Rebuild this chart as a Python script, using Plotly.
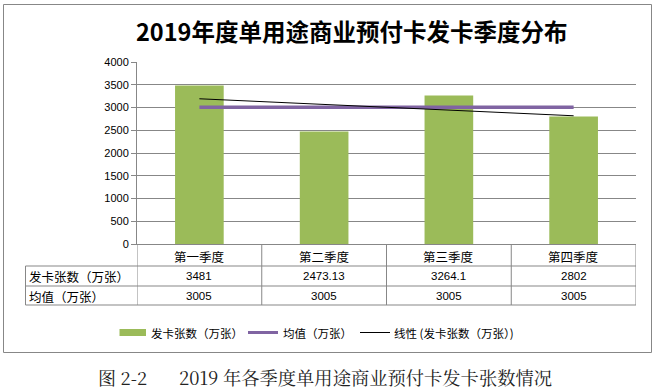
import numpy as np
import plotly.graph_objects as go

# ---------------- data ----------------
categories = ["第一季度", "第二季度", "第三季度", "第四季度"]
cards = [3481, 2473.13, 3264.1, 2802]
mean_vals = [3005, 3005, 3005, 3005]
row_labels = ["发卡张数（万张）", "均值（万张）"]
series_names = ["发卡张数（万张）", "均值（万张）", "线性 (发卡张数（万张）)"]
y_ticks = [0, 500, 1000, 1500, 2000, 2500, 3000, 3500, 4000]
title_text = "2019年度单用途商业预付卡发卡季度分布"
caption_left = "图 2-2"
caption_right = "2019 年各季度单用途商业预付卡发卡张数情况"

# ---------------- geometry helpers ----------------
W, H = 657, 392
L, R, T, B = 137, 636, 62, 244   # plot area in pixels

BAR_COLOR = "#9BBB59"
MEAN_COLOR = "#8064A2"
TREND_COLOR = "#000000"


def px(x):
    return (x - L) / (R - L)


def py(y):
    return (B - y) / (B - T)


xs = list(range(len(categories)))
slope, intercept = np.polyfit(np.array(xs, dtype=float) + 1, np.array(cards, dtype=float), 1)
trend = [slope * (i + 1) + intercept for i in xs]

GRID = "#878787"
CJK = "Noto Sans CJK SC, sans-serif"
NUM = "Liberation Sans, Arial, sans-serif"
SERIF = "Noto Serif CJK SC, Liberation Serif, Noto Sans CJK SC, serif"

fig = go.Figure()
fig.add_trace(go.Bar(x=xs, y=cards, name=series_names[0], marker_color=BAR_COLOR,
                     width=0.39, marker_line_width=0, showlegend=False))
fig.add_trace(go.Scatter(x=xs, y=mean_vals, name=series_names[1], mode="lines",
                         line=dict(color=MEAN_COLOR, width=3.5), showlegend=False))
fig.add_trace(go.Scatter(x=xs, y=trend, name=series_names[2], mode="lines",
                         line=dict(color=TREND_COLOR, width=1), showlegend=False))

shapes = []
# outer border
shapes.append(dict(type="rect", xref="paper", yref="paper", x0=px(3.5), x1=px(651.5),
                   y0=py(352.5), y1=py(4.5), line=dict(color=GRID, width=1)))
# table horizontal lines
for yy in [266, 286, 305]:
    shapes.append(dict(type="line", xref="paper", yref="paper", x0=px(25.5), x1=1,
                       y0=py(yy), y1=py(yy), line=dict(color=GRID, width=1)))
# table vertical lines at category boundaries
for i in range(len(categories) + 1):
    shapes.append(dict(type="line", xref="x", yref="paper", x0=i - 0.5, x1=i - 0.5,
                       y0=0, y1=py(305), line=dict(color=GRID, width=1)))
shapes.append(dict(type="line", xref="paper", yref="paper", x0=px(25.5), x1=px(25.5),
                   y0=py(266), y1=py(305), line=dict(color=GRID, width=1)))

# legend (drawn manually to match the reference keys)
LEG_Y = 332.5
shapes.append(dict(type="rect", xref="paper", yref="paper", x0=px(119.5), x1=px(146),
                   y0=py(336), y1=py(329), fillcolor=BAR_COLOR, line=dict(width=0)))
shapes.append(dict(type="line", xref="paper", yref="paper", x0=px(248), x1=px(278),
                   y0=py(LEG_Y), y1=py(LEG_Y), line=dict(color=MEAN_COLOR, width=3)))
shapes.append(dict(type="line", xref="paper", yref="paper", x0=px(360), x1=px(390),
                   y0=py(LEG_Y), y1=py(LEG_Y), line=dict(color=TREND_COLOR, width=1)))

annotations = []
for name, xx in zip(series_names, [149, 281, 392]):
    annotations.append(dict(text=name, xref="paper", yref="paper", x=px(xx), y=py(LEG_Y),
                            xanchor="left", yanchor="middle", showarrow=False,
                            font=dict(family=CJK, size=11.5, color="#000000")))

annotations.append(dict(text="<b>" + title_text + "</b>", xref="paper", yref="paper",
                        x=px(351), y=py(31), xanchor="center", yanchor="middle",
                        showarrow=False, font=dict(family=CJK, size=23.5, color="#000000")))
for i, c in enumerate(categories):
    annotations.append(dict(text=c, xref="x", yref="paper", x=i, y=py(256),
                            xanchor="center", yanchor="middle", showarrow=False,
                            font=dict(family=CJK, size=12.5, color="#000000")))
    annotations.append(dict(text=f"{cards[i]:g}", xref="x", yref="paper", x=i, y=py(276),
                            xanchor="center", yanchor="middle", showarrow=False,
                            font=dict(family=NUM, size=11.5, color="#000000")))
    annotations.append(dict(text=f"{mean_vals[i]:g}", xref="x", yref="paper", x=i, y=py(296),
                            xanchor="center", yanchor="middle", showarrow=False,
                            font=dict(family=NUM, size=11.5, color="#000000")))
for lab, yy in zip(row_labels, [276, 296]):
    annotations.append(dict(text=lab, xref="paper", yref="paper", x=px(27), y=py(yy),
                            xanchor="left", yanchor="middle", showarrow=False,
                            font=dict(family=CJK, size=12.5, color="#000000")))
annotations.append(dict(text=caption_left, xref="paper", yref="paper", x=px(96), y=py(377),
                        xanchor="left", yanchor="middle", showarrow=False,
                        font=dict(family=SERIF, size=18, color="#222222")))
annotations.append(dict(text=caption_right, xref="paper", yref="paper", x=px(177), y=py(377),
                        xanchor="left", yanchor="middle", showarrow=False,
                        font=dict(family=SERIF, size=18.3, color="#222222")))

fig.update_layout(
    width=W, height=H,
    margin=dict(l=L, r=W - R, t=T, b=H - B, pad=0),
    paper_bgcolor="white", plot_bgcolor="white",
    showlegend=False,
    shapes=shapes, annotations=annotations,
)
fig.update_xaxes(range=[-0.5, len(categories) - 0.5], showticklabels=False, showgrid=False,
                 zeroline=False, showline=True, linecolor=GRID, linewidth=1, ticks="")
fig.update_yaxes(range=[0, 4000], tickvals=y_ticks, showgrid=True, gridcolor=GRID, gridwidth=1,
                 zeroline=False, showline=True, linecolor=GRID, linewidth=1,
                 ticks="outside", ticklen=5, tickcolor=GRID,
                 tickfont=dict(family=NUM, size=11, color="#000000"))

fig.write_html("out.html", config={"displayModeBar": False},
               post_script="document.body.style.margin='0';document.body.style.overflow='hidden';")
